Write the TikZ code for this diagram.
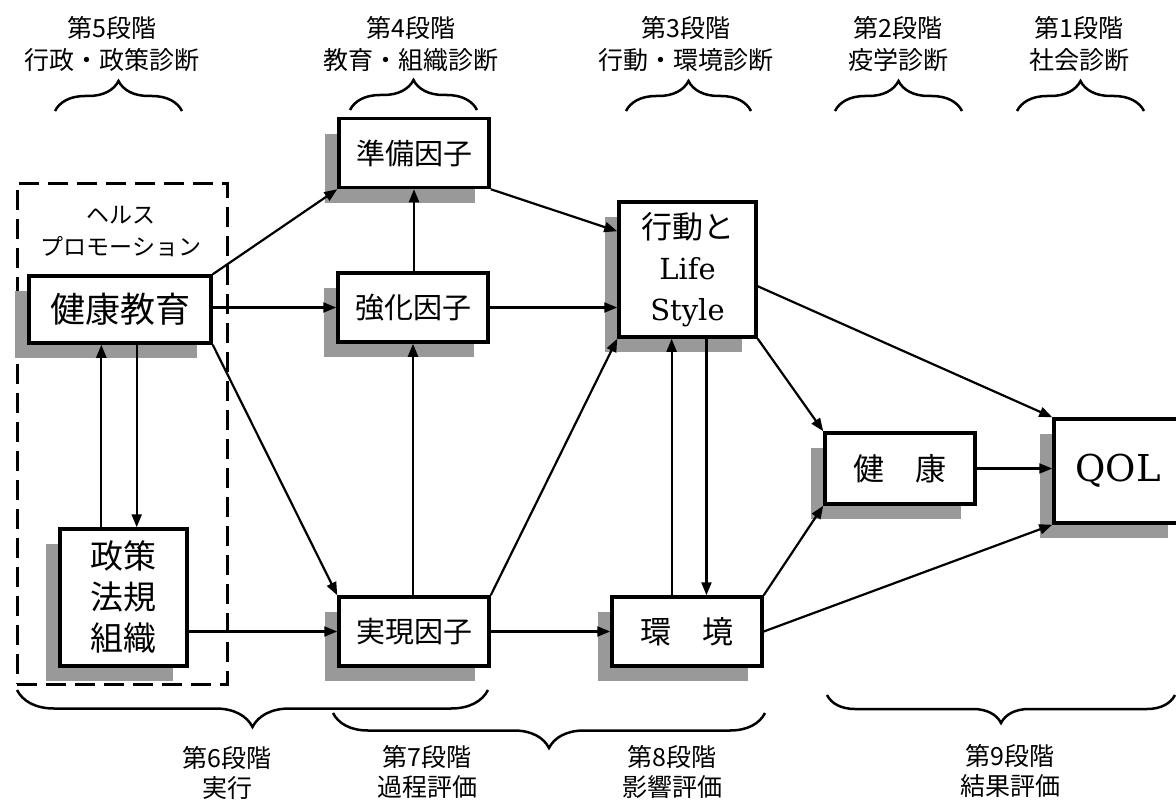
\documentclass[tikz,border=0pt]{standalone}
\usepackage{fontspec}
\setmainfont{Noto Sans CJK JP}
\newfontfamily\latinserif{DejaVu Serif}
\usetikzlibrary{arrows.meta,shadows,decorations.pathreplacing,calc}
\begin{document}
\begin{tikzpicture}[x=1pt,y=-1pt,
  box/.style={draw, line width=3.5pt, fill=white, inner sep=0pt, align=center,
    drop shadow={shadow xshift=-14pt, shadow yshift=-15pt, opacity=1, fill=black!40}},
  fbox/.style={box, minimum width=150pt, minimum height=69pt, font=\fontsize{29}{29}\selectfont},
  arr/.style={line width=2.2pt, -{Triangle[length=13pt,width=10pt]}},
  hdr/.style={align=center, inner sep=0pt, font=\fontsize{25}{32}\selectfont},
  brc/.style={decorate, decoration={brace, amplitude=#1}, line width=2.5pt},
  hpbox/.style={draw, line width=3pt, dash pattern=on 20pt off 9pt, inner sep=0pt}
]
\useasboundingbox (0,0) rectangle (1176,800);
\clip (0,0) rectangle (1176,800);
\fill[white] (0,0) rectangle (1176,800);

% headers
\node[hdr] (h5) at (112,44) {第5段階\\行政・政策診断};
\node[hdr] (h4) at (411,44) {第4段階\\教育・組織診断};
\node[hdr] (h3) at (686,44) {第3段階\\行動・環境診断};
\node[hdr] (h2) at (898,44) {第2段階\\疫学診断};
\node[hdr] (h1) at (1079,44) {第1段階\\社会診断};

\draw[brc=30pt] (55,111) -- (182,111);
\draw[brc=30pt] (350,110) -- (477,110);
\draw[brc=30pt] (626,111) -- (751,111);
\draw[brc=30pt] (835,111) -- (962,111);
\draw[brc=30pt] (1017,111) -- (1144,111);

% health promotion frame
\node[hpbox, minimum width=210pt, minimum height=501pt] (hp) at (122,433.5) {};
\node[align=center, inner sep=0pt, font=\fontsize{23}{32}\selectfont] (hplabel) at (121,232) {ヘルス\\プロモーション};

% boxes
\node[box, minimum width=182pt, minimum height=67pt, font=\fontsize{35}{35}\selectfont] (kyoiku) at (120,309.5) {健康教育};
\node[box, minimum width=127pt, minimum height=137pt, font=\fontsize{33}{41}\selectfont] (seisaku) at (123.5,597.5) {政策\\法規\\組織};
\node[fbox] (junbi) at (414,153) {準備因子};
\node[fbox] (kyoka) at (413,307.5) {強化因子};
\node[fbox] (jitsugen) at (414,631.5) {実現因子};
\node[box, minimum width=137pt, minimum height=135pt, font=\fontsize{31}{41}\selectfont] (kodo) at (687.5,269.5)
  {行動と\\{\latinserif\fontsize{29}{41}\selectfont Life}\\{\latinserif\fontsize{29}{41}\selectfont Style}};
\node[fbox, font=\fontsize{31}{31}\selectfont] (kankyo) at (687,631.5) {環　境};
\node[box, minimum width=150pt, minimum height=71pt, font=\fontsize{31}{31}\selectfont] (kenko) at (900,468.5) {健　康};
\node[box, minimum width=128pt, minimum height=104pt] (qol) at (1118,471) {{\latinserif\fontsize{37}{40}\selectfont QOL}};

% connectors
\draw[arr] (kyoiku.north east) -- (junbi.south west);
\draw[arr] (kyoiku.east |- kyoka.west) -- (kyoka.west);
\draw[arr] (kyoiku.south east) -- (jitsugen.north west);
\coordinate (u1) at ($(seisaku.north west)!0.33!(seisaku.north east)$);
\draw[arr] (u1) -- (u1 |- kyoiku.south);
\coordinate (d1) at ($(kyoiku.south west)!0.59!(kyoiku.south east)$);
\draw[arr] (d1) -- (d1 |- seisaku.north);
\draw[arr] (seisaku.east |- jitsugen.west) -- (jitsugen.west);

\draw[arr] (kyoka.north -| junbi.south) -- (junbi.south);
\draw[arr] (jitsugen.north -| kyoka.south) -- (kyoka.south);

\coordinate (kin) at ($(kodo.north west)+(0,31)$);
\draw[arr] (junbi.south east) -- (kin);
\draw[arr] (kyoka.east) -- (kyoka.east -| kodo.west);
\draw[arr] (jitsugen.north east) -- (kodo.south west);
\draw[arr] (jitsugen.east) -- (jitsugen.east -| kankyo.west);

\coordinate (k1) at ($(kodo.south west)!0.387!(kodo.south east)$);
\draw[arr] (k1 |- kankyo.north) -- (k1);
\coordinate (k2) at ($(kodo.south west)!0.635!(kodo.south east)$);
\draw[arr] (k2) -- (k2 |- kankyo.north);

\draw[arr] (kodo.south east) -- (kenko.north west);
\draw[arr] (kankyo.north east) -- (kenko.south west);
\coordinate (kout) at ($(kodo.north east)+(0,86)$);
\draw[arr] (kout) -- (qol.north west);
\draw[arr] (kenko.east) -- (kenko.east -| qol.west);
\draw[arr] (kankyo.east) -- (qol.south west);

% bottom braces and labels
\draw[brc=37pt] (488,690) -- (17,690);
\draw[brc=35pt] (765,713) -- (333,713);
\draw[brc=28pt] (1175,695) -- (827,695);

\node[hdr, font=\fontsize{25}{30}\selectfont] (b6) at (227,773) {第6段階\\実行};
\node[hdr, font=\fontsize{25}{30}\selectfont] (b7) at (427,772) {第7段階\\過程評価};
\node[hdr, font=\fontsize{25}{30}\selectfont] (b8) at (672,772) {第8段階\\影響評価};
\node[hdr, font=\fontsize{25}{30}\selectfont] (b9) at (1010,771) {第9段階\\結果評価};
\end{tikzpicture}
\end{document}
